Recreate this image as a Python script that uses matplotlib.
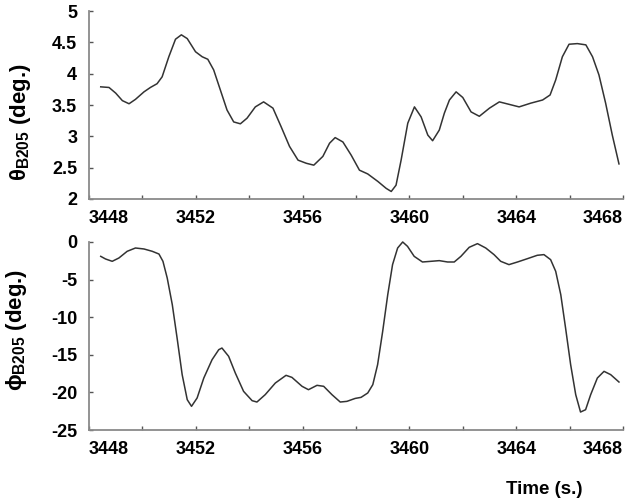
import matplotlib
matplotlib.use("Agg")
import matplotlib.pyplot as plt

plt.rcParams['font.family'] = ['Liberation Sans', 'DejaVu Sans']
plt.rcParams['mathtext.fontset'] = 'custom'
plt.rcParams['mathtext.rm'] = 'Liberation Sans:bold'
plt.rcParams['mathtext.it'] = 'Liberation Sans:bold'
plt.rcParams['mathtext.bf'] = 'Liberation Sans:bold'

TICK_SIZE = 13

# theta (deg.) vs time
t_theta = [3448.44, 3448.75, 3449.0, 3449.25, 3449.5, 3449.74, 3450.06, 3450.3,
           3450.55, 3450.74, 3450.99, 3451.24, 3451.46, 3451.68, 3451.99, 3452.24,
           3452.45, 3452.67, 3452.92, 3453.17, 3453.42, 3453.67, 3453.92, 3454.23,
           3454.54, 3454.89, 3455.2, 3455.51, 3455.83, 3456.14, 3456.42, 3456.76,
           3457.01, 3457.22, 3457.51, 3457.82, 3458.13, 3458.44, 3458.82, 3459.13,
           3459.32, 3459.5, 3459.69, 3459.94, 3460.19, 3460.44, 3460.69, 3460.87,
           3461.12, 3461.31, 3461.5, 3461.75, 3462.0, 3462.31, 3462.62, 3463.0,
           3463.37, 3463.74, 3464.11, 3464.55, 3464.99, 3465.27, 3465.48, 3465.73,
           3465.98, 3466.29, 3466.61, 3466.86, 3467.1, 3467.35, 3467.6, 3467.85]
theta = [3.79, 3.78, 3.69, 3.57, 3.52, 3.59, 3.71, 3.78,
         3.84, 3.95, 4.27, 4.55, 4.62, 4.56, 4.35, 4.27,
         4.23, 4.06, 3.74, 3.42, 3.23, 3.20, 3.29, 3.47,
         3.55, 3.45, 3.15, 2.84, 2.62, 2.57, 2.54, 2.68,
         2.89, 2.98, 2.91, 2.70, 2.46, 2.40, 2.28, 2.17,
         2.12, 2.22, 2.62, 3.21, 3.47, 3.31, 3.02, 2.93,
         3.10, 3.37, 3.58, 3.71, 3.62, 3.39, 3.32, 3.45,
         3.55, 3.51, 3.47, 3.53, 3.58, 3.66, 3.90, 4.27,
         4.47, 4.48, 4.46, 4.27, 3.98, 3.53, 3.02, 2.56]

# phi (deg.) vs time
t_phi = [3448.44, 3448.62, 3448.87, 3449.12, 3449.43, 3449.74, 3450.06, 3450.37,
         3450.62, 3450.77, 3450.93, 3451.12, 3451.3, 3451.49, 3451.68, 3451.84,
         3452.05, 3452.3, 3452.61, 3452.86, 3452.98, 3453.23, 3453.48, 3453.79,
         3454.11, 3454.29, 3454.6, 3454.98, 3455.38, 3455.6, 3455.98, 3456.22,
         3456.54, 3456.79, 3457.1, 3457.41, 3457.66, 3457.97, 3458.19, 3458.44,
         3458.63, 3458.81, 3459.0, 3459.19, 3459.37, 3459.56, 3459.75, 3459.93,
         3460.18, 3460.49, 3460.81, 3461.12, 3461.43, 3461.68, 3461.93, 3462.24,
         3462.55, 3462.86, 3463.17, 3463.42, 3463.73, 3464.05, 3464.42, 3464.79,
         3465.04, 3465.29, 3465.48, 3465.67, 3465.85, 3466.04, 3466.23, 3466.41,
         3466.6, 3466.79, 3467.04, 3467.29, 3467.54, 3467.85]
phi = [-1.91, -2.26, -2.57, -2.13, -1.24, -0.80, -0.93, -1.24,
       -1.60, -2.57, -4.79, -8.33, -12.77, -17.64, -20.97, -21.85,
       -20.74, -18.09, -15.65, -14.32, -14.10, -15.20, -17.42, -19.86,
       -21.10, -21.28, -20.30, -18.75, -17.73, -18.0, -19.19, -19.64,
       -19.06, -19.19, -20.30, -21.28, -21.19, -20.80, -20.66, -20.08,
       -18.97, -16.31, -11.88, -7.00, -3.01, -0.80, 0.0, -0.58,
       -1.91, -2.66, -2.57, -2.48, -2.66, -2.66, -1.91, -0.71,
       -0.22, -0.80, -1.68, -2.57, -3.01, -2.66, -2.22, -1.77,
       -1.68, -2.35, -3.90, -7.00, -11.44, -16.31, -20.30, -22.61,
       -22.30, -20.30, -18.09, -17.20, -17.64, -18.62]

x_ticks = list(range(3448, 3469, 2))
x_labels = [str(v) if v % 4 == 0 else '' for v in x_ticks]
theta_ticks = [2, 2.5, 3, 3.5, 4, 4.5, 5]
theta_labels = ['2', '2.5', '3', '3.5', '4', '4.5', '5']
phi_ticks = [-25, -20, -15, -10, -5, 0]
phi_labels = ['-25', '-20', '-15', '-10', '-5', '0']

fig = plt.figure(figsize=(6.28, 5.01), dpi=100)
ax1 = fig.add_axes([0.1417, 0.6028, 0.8503, 0.3752])
ax2 = fig.add_axes([0.1417, 0.1417, 0.8503, 0.3753])

def style(ax):
    for s in ['top', 'right']:
        ax.spines[s].set_visible(False)
    for s in ['left', 'bottom']:
        ax.spines[s].set_color('#8a8a8a')
        ax.spines[s].set_linewidth(1.3)
    ax.tick_params(direction='in', length=3, width=1, color='#555555')
    ax.tick_params(axis='y', pad=8.5)
    ax.tick_params(axis='x', pad=8)
    ax.set_xlim(3448, 3468)
    ax.set_xticks(x_ticks)
    ax.set_xticklabels(x_labels, fontweight='bold', fontsize=TICK_SIZE)
    labs = ax.get_xticklabels()
    labs[0].set_ha('left')
    labs[-1].set_ha('right')

ax1.plot(t_theta, theta, color='#333333', lw=1.1)
style(ax1)
ax1.set_ylim(2, 5)
ax1.set_yticks(theta_ticks)
ax1.set_yticklabels(theta_labels, fontweight='bold', fontsize=TICK_SIZE)
ax1.set_ylabel(r'$\theta_{B205}$ (deg.)', fontsize=16, fontweight='bold')
ax1.yaxis.set_label_coords(-0.105, 0.41)

ax2.plot(t_phi, phi, color='#333333', lw=1.1, clip_on=False)
style(ax2)
ax2.set_ylim(-25, 0)
ax2.set_yticks(phi_ticks)
ax2.set_yticklabels(phi_labels, fontweight='bold', fontsize=TICK_SIZE)
ax2.set_ylabel(r'$\phi_{B205}$ (deg.)', fontsize=16, fontweight='bold')
ax2.yaxis.set_label_coords(-0.112, 0.53)

fig.text(0.866, 0.022, 'Time (s.)', fontsize=13.5, fontweight='bold',
         ha='center', va='center')

fig.savefig('out.png', dpi=100)
